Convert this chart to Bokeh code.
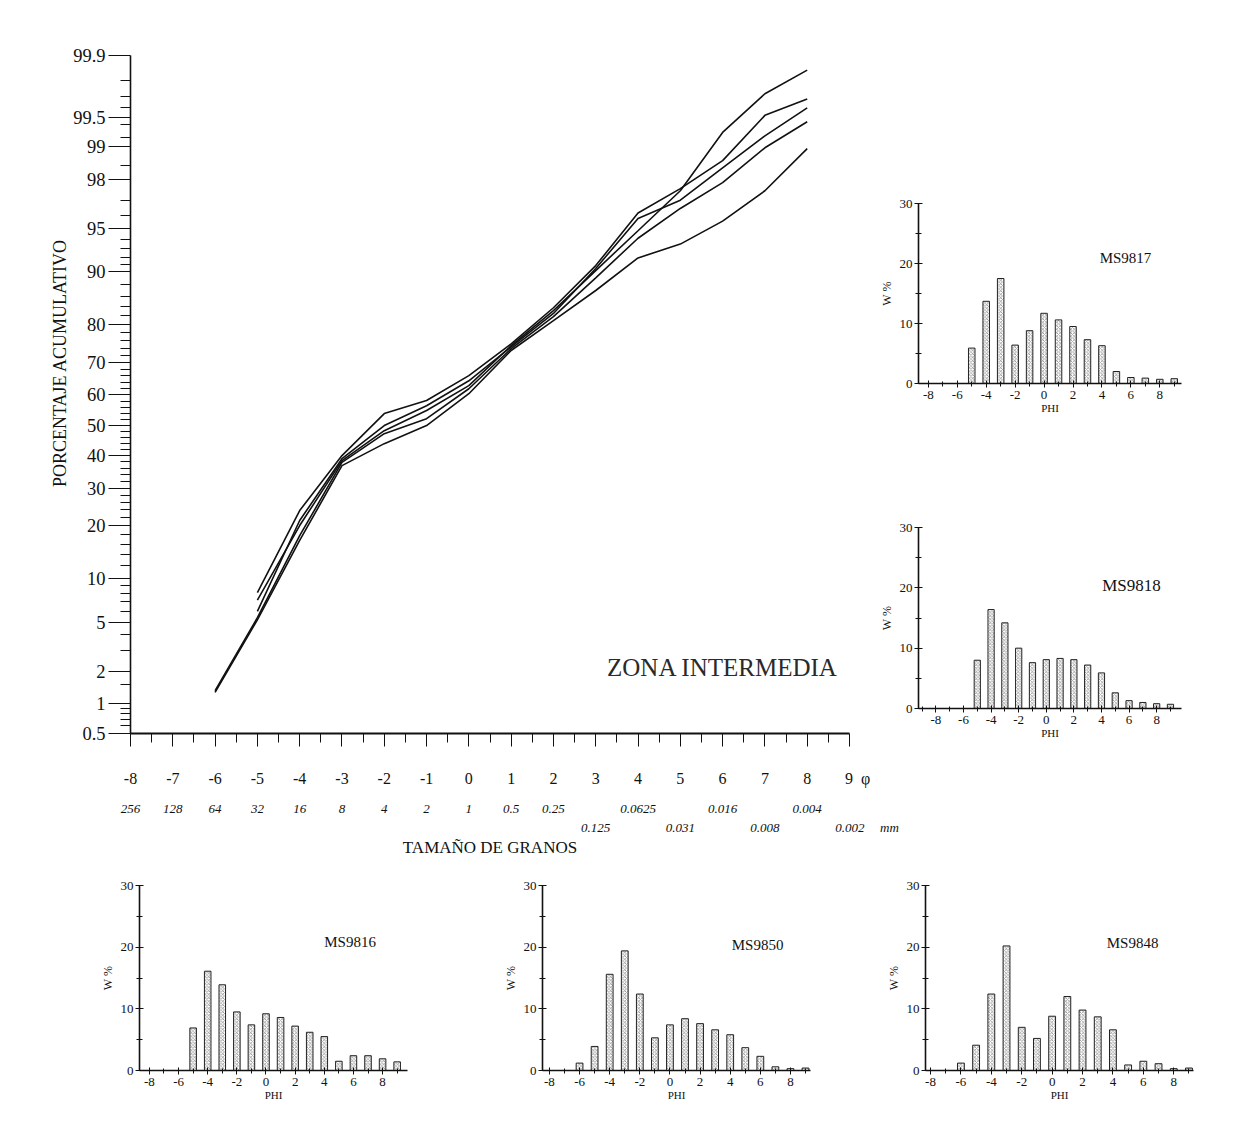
import math
from statistics import NormalDist
from bokeh.plotting import figure
from bokeh.models import FixedTicker, LinearAxis, Label, Range1d, Spacer, ColumnDataSource
from bokeh.layouts import row, column
from bokeh.embed import file_html
from bokeh.resources import INLINE

FONT = "Liberation Serif"
EN = "\u2002"
EM = "\u2003"
THIN = "\u2009"

# ---------------- main chart data ----------------
phi_ticks = list(range(-8, 10))
phi_labels = ["-8", "-7", "-6", "-5", "-4", "-3", "-2", "-1", "0", "1", "2", "3", "4", "5", "6", "7", "8",
              EN + EN + "9" + EN + "φ"]
mm_upper_phi = [-8, -7, -6, -5, -4, -3, -2, -1, 0, 1, 2, 4, 6, 8]
mm_upper_labels = ["256", "128", "64", "32", "16", "8", "4", "2", "1", "0.5", "0.25", "0.0625", "0.016", "0.004"]
mm_lower_phi = [3, 5, 7, 9]
mm_lower_labels = ["0.125", "0.031", "0.008", EM + EM + EN + THIN + "0.002" + EM + THIN + "mm"]

pct_ticks = [0.5, 1, 2, 5, 10, 20, 30, 40, 50, 60, 70, 80, 90, 95, 98, 99, 99.5, 99.9]
pct_labels = ["0.5", "1", "2", "5", "10", "20", "30", "40", "50", "60", "70", "80", "90", "95", "98", "99", "99.5", "99.9"]
pct_minor = [0.6, 0.7, 0.8, 0.9, 1.5, 3, 4, 6, 7, 8, 9, 12, 14, 16, 18, 22, 24, 26, 28, 32, 34, 36, 38,
             42, 44, 46, 48, 52, 54, 56, 58, 62, 64, 66, 68, 72, 74, 76, 78, 82, 84, 86, 88,
             91, 92, 93, 94, 96, 97, 98.5, 99.2, 99.4, 99.6, 99.7, 99.8]

curve_a_phi = [-5, -4, -3, -2, -1, 0, 1, 2, 3, 4, 5, 6, 7, 8]
curve_a_pct = [7.2, 20.1, 38.4, 48.2, 54.9, 63.0, 74.7, 83.1, 90.2, 94.8, 97.5, 99.28, 99.72, 99.85]
curve_b_phi = [-5, -4, -3, -2, -1, 0, 1, 2, 3, 4, 5, 6, 7, 8]
curve_b_pct = [8.1, 23.8, 40.0, 53.9, 58.2, 66.1, 75.2, 83.7, 90.9, 96.2, 97.6, 98.65, 99.52, 99.68]
curve_c_phi = [-5, -4, -3, -2, -1, 0, 1, 2, 3, 4, 5, 6, 7, 8]
curve_c_pct = [6.0, 21.3, 39.0, 49.9, 56.5, 64.5, 74.4, 82.5, 90.5, 95.8, 97.0, 98.43, 99.22, 99.6]
curve_d_phi = [-6, -5, -4, -3, -2, -1, 0, 1, 2, 3, 4, 5, 6, 7, 8]
curve_d_pct = [1.33, 5.4, 17.8, 37.8, 47.2, 52.2, 62.0, 73.9, 81.8, 89.1, 94.1, 96.5, 97.87, 98.98, 99.44]
curve_e_phi = [-6, -5, -4, -3, -2, -1, 0, 1, 2, 3, 4, 5, 6, 7, 8]
curve_e_pct = [1.28, 5.2, 16.8, 36.8, 43.9, 49.9, 60.4, 73.4, 80.9, 87.0, 91.9, 93.5, 95.6, 97.5, 98.96]

# ---------------- histogram data ----------------
ms9817_phi = [-5, -4, -3, -2, -1, 0, 1, 2, 3, 4, 5, 6, 7, 8, 9]
ms9817_w = [5.9, 13.7, 17.5, 6.4, 8.8, 11.7, 10.6, 9.5, 7.3, 6.3, 2.0, 1.0, 0.9, 0.7, 0.8]
ms9818_phi = [-5, -4, -3, -2, -1, 0, 1, 2, 3, 4, 5, 6, 7, 8, 9]
ms9818_w = [8.0, 16.4, 14.2, 10.0, 7.6, 8.1, 8.3, 8.1, 7.2, 5.9, 2.6, 1.3, 1.0, 0.8, 0.7]
ms9816_phi = [-5, -4, -3, -2, -1, 0, 1, 2, 3, 4, 5, 6, 7, 8, 9]
ms9816_w = [6.9, 16.1, 13.9, 9.5, 7.4, 9.2, 8.6, 7.2, 6.2, 5.5, 1.5, 2.4, 2.4, 1.9, 1.4]
ms9850_phi = [-6, -5, -4, -3, -2, -1, 0, 1, 2, 3, 4, 5, 6, 7, 8, 9]
ms9850_w = [1.2, 3.9, 15.6, 19.4, 12.4, 5.3, 7.4, 8.4, 7.6, 6.6, 5.8, 3.7, 2.3, 0.6, 0.3, 0.4]
ms9848_phi = [-6, -5, -4, -3, -2, -1, 0, 1, 2, 3, 4, 5, 6, 7, 8, 9]
ms9848_w = [1.2, 4.1, 12.4, 20.2, 7.0, 5.2, 8.8, 12.0, 9.8, 8.7, 6.6, 0.9, 1.5, 1.1, 0.3, 0.4]

hist_yticks = [0, 10, 20, 30]
hist_xticks = [-8, -6, -4, -2, 0, 2, 4, 6, 8]
hist_xlabels = ["-8", "-6", "-4", "-2", "0", "2", "4", "6", "8"]

ND = NormalDist()


def z(p):
    return ND.inv_cdf(p / 100.0)


INK = "#111111"

# ---------------- main probability chart ----------------
p = figure(width=905, height=873, x_range=Range1d(-8, 9), y_range=Range1d(z(0.5), z(99.9)),
           output_backend="svg", toolbar_location=None,
           x_axis_location=None, y_axis_location=None,
           min_border_left=130, min_border_right=56, min_border_top=55, min_border_bottom=140)
p.outline_line_color = None
p.grid.visible = False

yax = LinearAxis(ticker=FixedTicker(ticks=[z(v) for v in pct_ticks], minor_ticks=[z(v) for v in pct_minor]),
                 major_label_overrides={z(v): s for v, s in zip(pct_ticks, pct_labels)},
                 axis_label=EM * 3 + EN + "PORCENTAJE ACUMULATIVO")
yax.major_tick_out = 22
yax.major_tick_in = 0
yax.minor_tick_out = 10
yax.minor_tick_in = 0
yax.axis_line_width = 1.6
yax.axis_line_color = INK
yax.major_tick_line_color = INK
yax.minor_tick_line_color = INK
yax.major_tick_line_width = 1.2
yax.major_label_standoff = 3
yax.major_label_text_font = FONT
yax.major_label_text_font_size = "18.5px"
yax.major_label_text_color = INK
yax.axis_label_text_font = FONT
yax.axis_label_text_font_style = "normal"
yax.axis_label_text_font_size = "18px"
yax.axis_label_text_color = INK
yax.axis_label_standoff = 0
p.add_layout(yax, "left")

xax = LinearAxis(ticker=FixedTicker(ticks=phi_ticks, minor_ticks=[k + 0.5 for k in range(-8, 9)]),
                 major_label_overrides={k: s for k, s in zip(phi_ticks, phi_labels)})
xax.major_tick_out = 13
xax.major_tick_in = 0
xax.minor_tick_out = 9
xax.minor_tick_in = 0
xax.axis_line_width = 1.8
xax.axis_line_color = INK
xax.major_tick_line_color = INK
xax.minor_tick_line_color = INK
xax.major_label_standoff = 23
xax.major_label_text_font = FONT
xax.major_label_text_font_size = "16px"
xax.major_label_text_color = INK
p.add_layout(xax, "below")

mm1 = LinearAxis(ticker=FixedTicker(ticks=mm_upper_phi),
                 major_label_overrides={k: s for k, s in zip(mm_upper_phi, mm_upper_labels)})
mm2 = LinearAxis(ticker=FixedTicker(ticks=mm_lower_phi),
                 major_label_overrides={k: s for k, s in zip(mm_lower_phi, mm_lower_labels)},
                 axis_label="TAMAÑO DE GRANOS")
for ax, so in ((mm1, 15), (mm2, 4)):
    ax.axis_line_color = None
    ax.major_tick_line_color = None
    ax.minor_tick_line_color = None
    ax.major_tick_out = 0
    ax.minor_tick_out = 0
    ax.major_tick_in = 0
    ax.minor_tick_in = 0
    ax.major_label_standoff = so
    ax.major_label_text_font = FONT
    ax.major_label_text_font_style = "italic"
    ax.major_label_text_font_size = "13px"
    ax.major_label_text_color = INK
mm2.axis_label_text_font = FONT
mm2.axis_label_text_font_style = "normal"
mm2.axis_label_text_font_size = "17px"
mm2.axis_label_standoff = 0
mm2.axis_label_text_color = INK
p.add_layout(mm1, "below")
p.add_layout(mm2, "below")

for ph, pc in ((curve_a_phi, curve_a_pct), (curve_b_phi, curve_b_pct), (curve_c_phi, curve_c_pct),
               (curve_d_phi, curve_d_pct), (curve_e_phi, curve_e_pct)):
    p.line(x=ph, y=[z(v) for v in pc], line_color=INK, line_width=1.6)

p.add_layout(Label(x=6.0, y=-2.025, text="ZONA INTERMEDIA", text_align="center", text_baseline="middle",
                   text_font=FONT, text_font_size="25px", text_color="#2a2a2a"))


# ---------------- histograms ----------------
def hist(name, phis, vals, width, xr, mbl, mbr, mbt, mbb, tx, ty, title_size="15px"):
    h = figure(width=width, height=240, x_range=Range1d(*xr), y_range=Range1d(0, 30),
               output_backend="svg", toolbar_location=None,
               x_axis_location=None, y_axis_location=None,
               min_border_left=mbl, min_border_right=mbr, min_border_top=mbt, min_border_bottom=mbb)
    h.outline_line_color = None
    h.grid.visible = False
    src = ColumnDataSource(dict(phi=phis, w=vals))
    h.vbar(x="phi", top="w", bottom=0, width=0.45, source=src, fill_color="white",
           line_color="#222222", line_width=1,
           hatch_pattern="diagonal_cross", hatch_color="#7a7a7a", hatch_scale=3.5, hatch_weight=0.7)
    ya = LinearAxis(ticker=FixedTicker(ticks=hist_yticks, minor_ticks=[5, 15, 25]), axis_label="W %")
    ya.major_tick_in = 4
    ya.major_tick_out = 4
    ya.minor_tick_in = 3
    ya.minor_tick_out = 3
    ya.axis_line_width = 1.6
    xa = LinearAxis(ticker=FixedTicker(ticks=hist_xticks, minor_ticks=list(range(-9, 10))),
                    major_label_overrides={k: s for k, s in zip(hist_xticks, hist_xlabels)},
                    axis_label="PHI")
    xa.major_tick_in = 3
    xa.major_tick_out = 4
    xa.minor_tick_in = 2
    xa.minor_tick_out = 3
    xa.axis_line_width = 1.6
    for ax in (ya, xa):
        ax.axis_line_color = INK
        ax.major_tick_line_color = INK
        ax.minor_tick_line_color = INK
        ax.major_label_text_font = FONT
        ax.major_label_text_font_size = "13px"
        ax.major_label_text_color = INK
        ax.axis_label_text_font = FONT
        ax.axis_label_text_font_style = "normal"
        ax.axis_label_text_color = INK
    ya.major_label_standoff = 2
    ya.axis_label_text_font_size = "12px"
    ya.axis_label_standoff = 3
    xa.major_label_standoff = 3
    xa.axis_label_text_font_size = "11px"
    xa.axis_label_standoff = 0
    h.add_layout(ya, "left")
    h.add_layout(xa, "below")
    h.add_layout(Label(x=tx, y=ty, text=name, text_align="center", text_baseline="middle",
                       text_font=FONT, text_font_size=title_size, text_color=INK))
    return h


h9817 = hist("MS9817", ms9817_phi, ms9817_w, 320, (-8.68, 9.5), 37, 15, 23, 37, 5.63, 21.0)
h9818 = hist("MS9818", ms9818_phi, ms9818_w, 320, (-9.26, 9.8), 41, 12, 22, 37, 6.17, 20.4, "17px")
h9816 = hist("MS9816", ms9816_phi, ms9816_w, 430, (-8.68, 9.71), 139, 23, 12, 43, 5.77, 20.9)
h9850 = hist("MS9850", ms9850_phi, ms9850_w, 420, (-8.46, 9.33), 112, 40, 12, 43, 5.82, 20.4)
h9848 = hist("MS9848", ms9848_phi, ms9848_w, 370, (-8.33, 9.3), 75, 27, 12, 43, 5.29, 20.6)

right_col = column(Spacer(width=320, height=180), h9817, Spacer(width=320, height=85), h9818,
                   margin=(0, 0, 0, -29))
top = row(p, right_col)
bottom = row(h9816, h9850, h9848)
layout = column(top, bottom)

open("out.html", "w").write(file_html(layout, INLINE))
